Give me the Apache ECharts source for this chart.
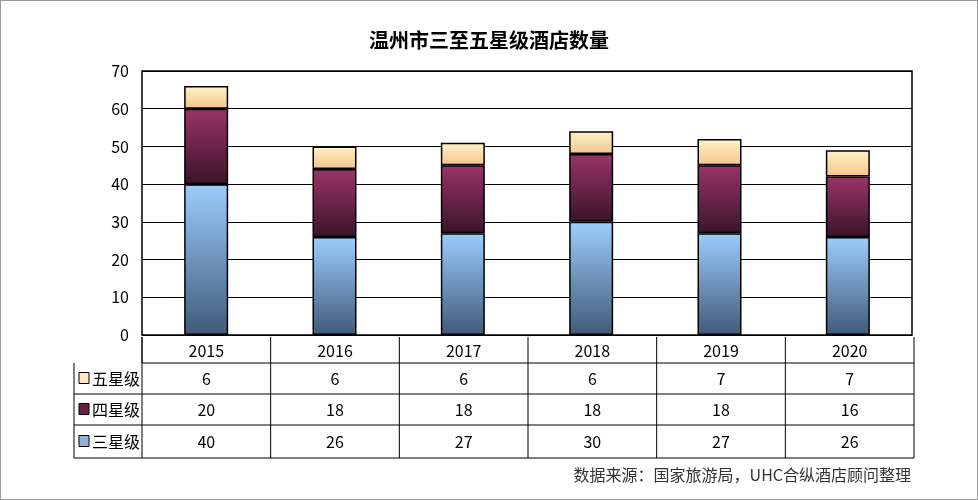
<!DOCTYPE html>
<html><head><meta charset="utf-8">
<script src="https://cdn.jsdelivr.net/npm/echarts@6/dist/echarts.min.js"></script>
<style>html,body{margin:0;padding:0;background:#fff}#main{width:978px;height:500px;box-sizing:border-box;border:1px solid #999}</style>
</head><body><div id="main"></div>
<script>
const years = ['2015', '2016', '2017', '2018', '2019', '2020']
const star3 = [40, 26, 27, 30, 27, 26]
const star4 = [20, 18, 18, 18, 18, 16]
const star5 = [6, 6, 6, 6, 7, 7]
const names = ['五星级', '四星级', '三星级']

const font = '"Noto Sans CJK SC", "Noto Sans", sans-serif'
const L = 141, R = 913, T = 70, B = 336
const colW = (R - L) / years.length
const rows = [336, 362, 393, 424, 457]
const tableLeft = 73

function grad(c0, c1) {
  return new echarts.graphic.LinearGradient(0, 0, 0, 1, [{ offset: 0, color: c0 }, { offset: 1, color: c1 }])
}
const fills = {
  '三星级': grad('#9ccdfd', '#405a7a'),
  '四星级': grad('#9a3468', '#3a1428'),
  '五星级': grad('#fff3c8', '#f6c48c')
}
const swatch = { '三星级': '#8fb4d8', '四星级': '#6a2040', '五星级': '#fbe8c0' }
const tableData = { '五星级': star5, '四星级': star4, '三星级': star3 }

const graphics = []
const line = (x1, y1, x2, y2) => graphics.push({ type: 'line', shape: { x1, y1, x2, y2 }, style: { stroke: '#000', lineWidth: 1 }, z: 10 })
// table lines
line(L, rows[1], L, rows[0]); line(R, rows[0], R, rows[4])
for (let i = 1; i < rows.length; i++) line(i === 1 ? L : tableLeft, rows[i], R, rows[i])
line(tableLeft, rows[1], tableLeft, rows[4])
for (let i = 0; i < years.length; i++) line(L + colW * i, rows[0], L + colW * i, rows[4])
years.forEach((y, i) => graphics.push({ type: 'text', x: L + colW * (i + 0.5), y: (rows[0] + rows[1]) / 2 + 1, style: { text: y, font: '16px ' + font, fill: '#000', align: 'center', verticalAlign: 'middle' } }))
names.forEach((n, r) => {
  const cy = (rows[r + 1] + rows[r + 2]) / 2
  graphics.push({ type: 'rect', shape: { x: 78, y: cy - 6, width: 10, height: 11 }, style: { fill: swatch[n], stroke: '#000', lineWidth: 1 } })
  graphics.push({ type: 'text', x: 91, y: cy, style: { text: n, font: '16px ' + font, fill: '#000', verticalAlign: 'middle' } })
  tableData[n].forEach((v, i) => graphics.push({ type: 'text', x: L + colW * (i + 0.5), y: cy, style: { text: String(v), font: '16px ' + font, fill: '#000', align: 'center', verticalAlign: 'middle' } }))
})
graphics.push({ type: 'text', right: 66, top: 466, style: { text: '数据来源：国家旅游局，UHC合纵酒店顾问整理', font: '16px ' + font, fill: '#333' } })

const myChart = echarts.init(document.getElementById('main'))
const mk = (name, data) => ({
  name, type: 'bar', stack: 'total', data, barWidth: 44,
  itemStyle: { color: fills[name], borderColor: '#000', borderWidth: 1.5 }
})
myChart.setOption({
  animation: false,
  title: { text: '温州市三至五星级酒店数量', left: 'center', top: 24, textStyle: { fontFamily: font, fontSize: 20, fontWeight: 'bold', color: '#000' } },
  grid: { left: L, right: 978 - R, top: T, bottom: 500 - B, show: true, borderColor: '#000', borderWidth: 1.5 },
  xAxis: { type: 'category', data: years, axisLine: { show: false }, axisTick: { show: false }, axisLabel: { show: false } },
  yAxis: {
    type: 'value', min: 0, max: 70, interval: 10,
    axisLabel: { fontFamily: font, fontSize: 16, color: '#000', margin: 13 },
    splitLine: { lineStyle: { color: '#000', width: 1 } }
  },
  series: [mk('三星级', star3), mk('四星级', star4), mk('五星级', star5)],
  graphic: graphics
})
</script></body></html>
